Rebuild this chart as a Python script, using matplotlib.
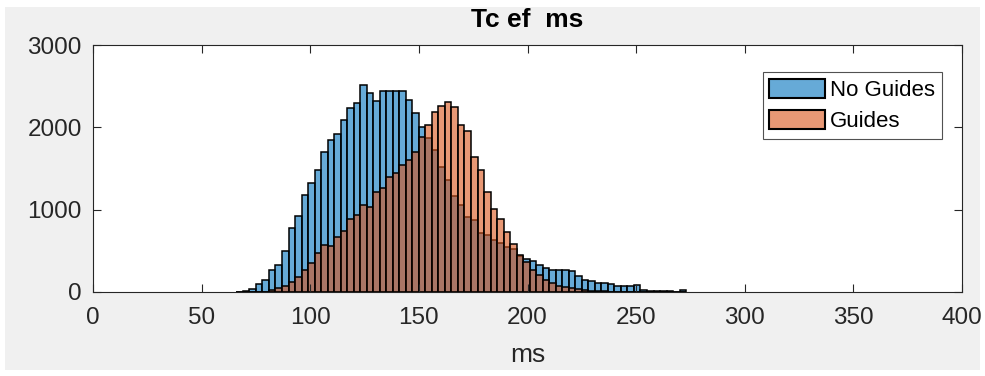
import numpy as np
import matplotlib
matplotlib.use("Agg")
import matplotlib.pyplot as plt
from matplotlib.patches import Rectangle

# Bin edges (ms), width 3
bin_start = 66
bin_width = 3

no_guides = [5, 15, 40, 93, 150, 267, 328, 502, 776, 920,
             1178, 1320, 1482, 1705, 1847, 1916, 2090, 2232, 2293, 2515,
             2422, 2325, 2442, 2442, 2442, 2442, 2333, 2170, 2009, 1870,
             1720, 1523, 1361, 1166, 1057, 915, 870, 713, 693, 632,
             591, 543, 520, 440, 397, 377, 328, 288, 270, 265,
             265, 260, 190, 150, 135, 115, 105, 92, 78, 72,
             72, 90, 20, 18, 15, 12, 8, 0, 30]

guides = [0, 0, 0, 0, 5, 20, 45, 73, 125, 186,
          262, 355, 478, 565, 559, 672, 745, 883, 932, 1057,
          1036, 1219, 1260, 1401, 1442, 1543, 1604, 1705, 1880, 2029,
          2191, 2260, 2304, 2252, 2029, 1960, 1636, 1478, 1219, 1008,
          890, 727, 587, 450, 368, 267, 207, 146, 105, 73,
          57, 45, 32, 24, 16, 12, 8, 6, 4, 3,
          2, 1, 0, 0, 0, 0, 0, 0, 0]

series_labels = ["No Guides", "Guides"]
title_text = "Tc ef  ms"
xlabel_text = "ms"
xticks = [0, 50, 100, 150, 200, 250, 300, 350, 400]
yticks = [0, 1000, 2000, 3000]

edges = bin_start + bin_width * np.arange(len(no_guides))

plt.rcParams['font.family'] = ['Liberation Sans', 'DejaVu Sans']

W, H = 985, 376
fig = plt.figure(figsize=(W / 100, H / 100), dpi=100, facecolor='white')
fig.patches.append(Rectangle((5 / W, 6 / H), 975 / W, 363 / H, transform=fig.transFigure,
                             facecolor='#f0f0f0', edgecolor='none', zorder=-10))

ax = fig.add_axes([93 / W, (H - 292) / H, 869 / W, 247 / H])

blue = (0.0, 0.447, 0.741, 0.6)
orange = (0.85, 0.325, 0.098, 0.6)

ax.bar(edges, no_guides, width=bin_width, align='edge', facecolor=blue,
       edgecolor='black', linewidth=1.1, label=series_labels[0])
ax.bar(edges, guides, width=bin_width, align='edge', facecolor=orange,
       edgecolor='black', linewidth=1.1, label=series_labels[1])

ax.set_xlim(0, 400)
ax.set_ylim(0, 3000)
ax.set_xticks(xticks)
ax.set_yticks(yticks)
ax.tick_params(direction='in', top=True, right=True, length=6, width=0.8,
               labelsize=17.5, colors='#262626')
ax.tick_params(axis='x', pad=11)
ax.tick_params(axis='y', pad=8)
for s in ax.spines.values():
    s.set_color('#262626')
    s.set_linewidth(0.8)

ax.set_title(title_text, fontsize=19, fontweight='bold', color='black', pad=13)
ax.set_xlabel(xlabel_text, fontsize=19, color='#262626', labelpad=10)

leg = ax.legend(loc='upper right', bbox_to_anchor=(0.977, 0.891), fontsize=16,
                frameon=True, fancybox=False, edgecolor='#262626',
                handlelength=2.5, handleheight=0.95,
                borderpad=0.3, handletextpad=0.25, labelspacing=0.4,
                borderaxespad=0)
leg.get_frame().set_linewidth(0.8)
leg.get_frame().set_facecolor('white')
for p in leg.get_patches():
    p.set_linewidth(1.5)

fig.savefig('out.png', dpi=100, facecolor=fig.get_facecolor())
